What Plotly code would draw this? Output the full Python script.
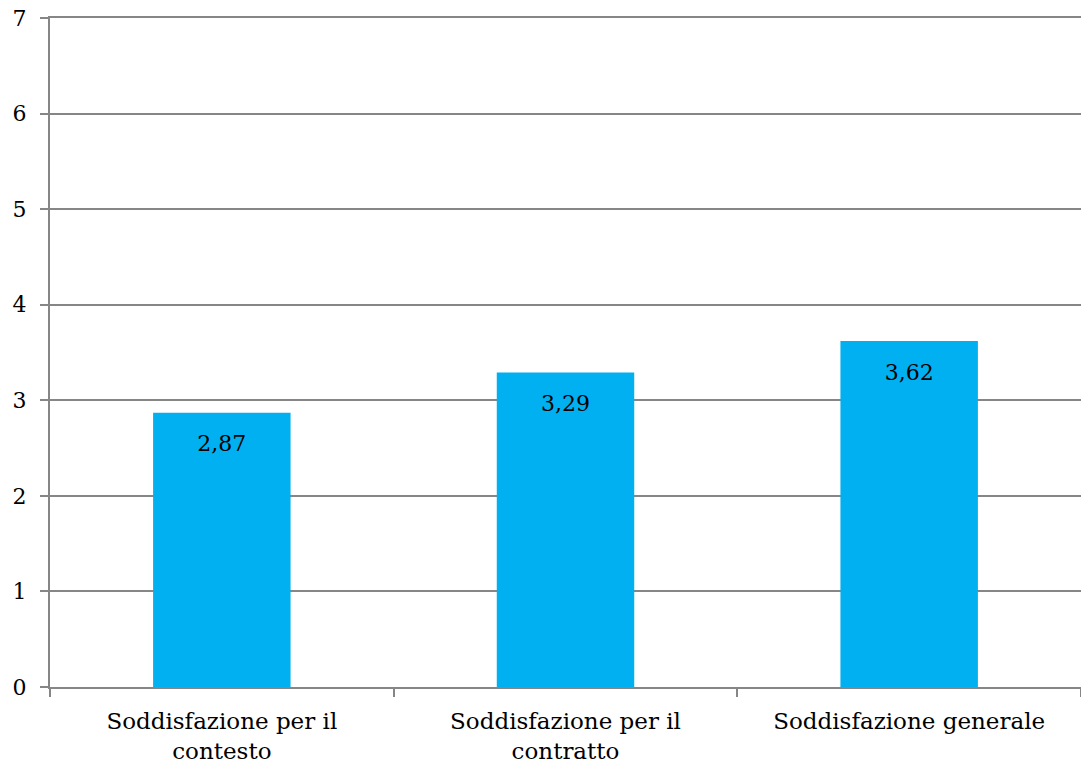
import plotly.graph_objects as go

categories = ["Soddisfazione per il<br>contesto", "Soddisfazione per il<br>contratto", "Soddisfazione generale"]
values = [2.87, 3.29, 3.62]
labels = ["2,87", "3,29", "3,62"]
y_ticks = [0, 1, 2, 3, 4, 5, 6, 7]

FONT = "DejaVu Serif"
GRID = "#868686"
FS = 23

fig = go.Figure()
fig.add_trace(go.Bar(
    x=categories, y=values,
    marker=dict(color="#00B0F0", line=dict(width=0)),
    width=0.4, hoverinfo="skip",
))
fig.add_trace(go.Scatter(
    x=categories, y=values, text=labels,
    mode="markers+text", textposition="bottom center",
    marker=dict(size=34, opacity=0),
    textfont=dict(family=FONT, size=22, color="black"),
    hoverinfo="skip",
))

fig.update_layout(
    width=1081, height=769,
    margin=dict(l=50, r=0, t=18, b=82, autoexpand=False),
    paper_bgcolor="white", plot_bgcolor="white",
    font=dict(family=FONT, size=FS, color="black"),
    showlegend=False,
)
fig.update_xaxes(
    showline=True, mirror=True, linecolor=GRID, linewidth=2,
    ticks="outside", tickson="boundaries", ticklen=8, tickcolor=GRID, tickwidth=2,
    showgrid=False, tickfont=dict(family=FONT, size=FS),
    automargin=False, ticklabelstandoff=12,
)
fig.update_yaxes(
    range=[0, 7], tickvals=y_ticks,
    showline=True, linecolor=GRID, linewidth=2,
    ticks="outside", ticklen=8, tickcolor=GRID, tickwidth=2,
    showgrid=True, gridcolor=GRID, gridwidth=2,
    zeroline=False, ticklabelstandoff=9, automargin=False,
    tickfont=dict(family=FONT, size=22),
)
fig.write_html(
    "out.html",
    config={"displayModeBar": False},
    post_script="document.body.style.margin='0';document.body.style.overflow='hidden';",
)
